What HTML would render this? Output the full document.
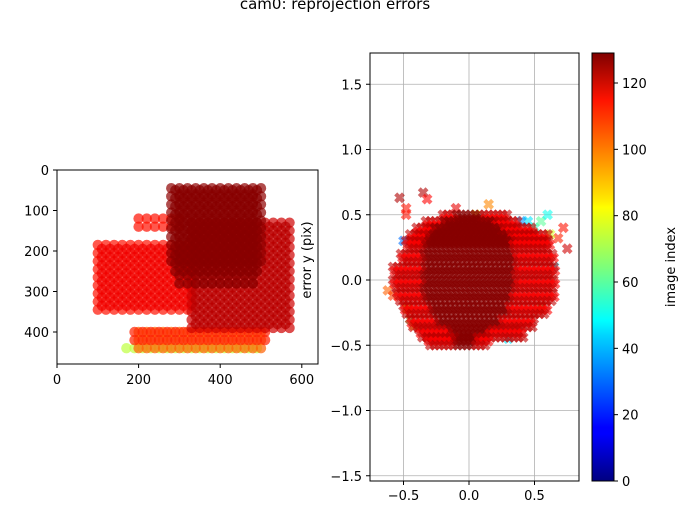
<!DOCTYPE html>
<html><head><meta charset="utf-8"><style>
body{margin:0;background:#fff;}
svg text{font-family:"DejaVu Sans","Liberation Sans",sans-serif;font-size:13px;fill:#000;}
</style></head><body>
<svg id="c" width="683" height="508" viewBox="0 0 683 508">
<defs>
<linearGradient id="jet" x1="0" y1="1" x2="0" y2="0">
<stop offset="0" stop-color="#000080"/><stop offset="0.11" stop-color="#0000ff"/><stop offset="0.125" stop-color="#0000ff"/>
<stop offset="0.34" stop-color="#00d4ff"/><stop offset="0.375" stop-color="#0ff"/><stop offset="0.5" stop-color="#7dff7a"/>
<stop offset="0.64" stop-color="#ff0"/><stop offset="0.66" stop-color="#ffe600"/><stop offset="0.89" stop-color="#ff1300"/><stop offset="1" stop-color="#800000"/>
</linearGradient>
<clipPath id="clipL"><rect x="57" y="170" width="261" height="194"/></clipPath>
<clipPath id="clipR"><rect x="370" y="53" width="209" height="428"/></clipPath>
</defs>
<text x="335" y="9" text-anchor="middle" style="font-size:15px">cam0: reprojection errors</text>
<g id="left"></g>
<g id="right"></g>
<g id="cbar"></g>
</svg>
<script>
// Left plot: blocks of detected corner grids [xmin,xmax,ymin,ymax,imageIndex]
const blocks=[[170,500,440,455,72],[200,500,400,440,100],[190,520,400,425,108],[200,300,120,150,110],[100,320,185,355,110],[110,330,195,345,114],[330,570,130,400,118],[340,560,140,390,121],[280,500,45,225,126],[300,480,60,290,127],[290,490,50,250,127]];
const leftXTicks=[0,200,400,600];
const leftYTicks=[0,100,200,300,400];
// Right plot: rows of error cloud [y, xmin, xmax, coreMin, coreMax]
const cloudRows=[[0.5,-0.2,0.3,-0.1,0.1],[0.45,-0.33,0.38,-0.2,0.2],[0.4,-0.4,0.5,-0.28,0.25],[0.35,-0.45,0.6,-0.3,0.3],[0.3,-0.48,0.62,-0.33,0.33],[0.2,-0.52,0.65,-0.35,0.35],[0.1,-0.58,0.66,-0.35,0.35],[0.0,-0.58,0.66,-0.35,0.35],[-0.1,-0.55,0.66,-0.35,0.33],[-0.2,-0.5,0.6,-0.3,0.3],[-0.3,-0.45,0.5,-0.25,0.25],[-0.38,-0.38,0.42,-0.15,0.15],[-0.44,-0.32,0.15,-0.1,0.05]];
const extraX=[-0.53,-0.48,-0.35,-0.32,-0.62,-0.58,0.75,0.72,0.68,-0.48,0.45,0.5,0.55,0.6,0.62,-0.47,-0.45,-0.42,0.3,0.25,0.05,-0.5,0.35,0.4,-0.1,0.15,0.55,0.65];
const extraY=[0.63,0.55,0.67,0.62,-0.08,-0.12,0.24,0.4,0.32,0.5,0.45,0.4,0.45,0.5,0.35,-0.22,-0.3,-0.35,-0.45,-0.38,0.5,0.3,-0.35,0.45,0.55,0.58,-0.2,0.1];
const extraIdx=[122,110,122,112,100,105,118,110,108,110,45,55,60,50,75,80,65,90,45,40,80,30,55,35,115,95,70,45];
const rightXTicks=[-0.5,0.0,0.5];
const rightYTicks=[-1.5,-1.0,-0.5,0.0,0.5,1.0,1.5];
const cbTicks=[0,20,40,60,80,100,120];

const NS="http://www.w3.org/2000/svg";
function mk(t,a,p){const e=document.createElementNS(NS,t);for(const k in a)e.setAttribute(k,a[k]);p.appendChild(e);return e;}
function jet(i){const t=i/128;const c=v=>Math.round(255*Math.max(0,Math.min(1,v)));return `rgb(${c(1.5-Math.abs(4*t-3))},${c(1.5-Math.abs(4*t-2))},${c(1.5-Math.abs(4*t-1))})`;}
const lx=v=>57+v*0.408, ly=v=>170+v*0.405;
const rx=v=>469+v*131, ry=v=>280-v*130.5;
const cy=v=>481-v*(398/120);

// left plot
const L=document.getElementById('left');
const LP=mk('g',{'clip-path':'url(#clipL)'},L);
blocks.forEach(b=>{for(let y=b[2];y<=b[3];y+=20)for(let x=b[0];x<=b[1];x+=20){
 const e=mk('circle',{cx:lx(x),cy:ly(y),r:5.2,fill:jet(b[4]),'fill-opacity':0.7},LP);
 
 }});
const lf=mk('rect',{x:57,y:170,width:261,height:194,fill:'none',stroke:'#000','stroke-width':1},L);

leftXTicks.forEach(v=>{mk('line',{x1:lx(v),x2:lx(v),y1:364,y2:368,stroke:'#000'},L);
 const t=mk('text',{x:lx(v),y:384,'text-anchor':'middle'},L);t.textContent=v;
 });
leftYTicks.forEach(v=>{mk('line',{x1:53,x2:57,y1:ly(v),y2:ly(v),stroke:'#000'},L);
 const t=mk('text',{x:49,y:ly(v)+5,'text-anchor':'end'},L);t.textContent=v;
 });

// right plot
const R=document.getElementById('right');
rightXTicks.forEach(v=>mk('line',{x1:rx(v),x2:rx(v),y1:53,y2:481,stroke:'#b0b0b0','stroke-width':0.8},R));
rightYTicks.forEach(v=>mk('line',{x1:370,x2:579,y1:ry(v),y2:ry(v),stroke:'#b0b0b0','stroke-width':0.8},R));
const RP=mk('g',{'clip-path':'url(#clipR)'},R);
function xmark(x,y,idx){const s=5.5,w=2.1;const pts=[[-w,-s],[w,-s],[w,-w],[s,-w],[s,w],[w,w],[w,s],[-w,s],[-w,w],[-s,w],[-s,-w],[-w,-w]];
 const p=pts.map(([a,b])=>{const c=Math.SQRT1_2;return (rx(x)+(a-b)*c).toFixed(1)+','+(ry(y)+(a+b)*c).toFixed(1);}).join(' ');
 const e=mk('polygon',{points:p,fill:jet(idx),'fill-opacity':0.6},RP);
 
 }
for(let i=0;i<extraX.length;i++)xmark(extraX[i],extraY[i],extraIdx[i]);
cloudRows.forEach(r=>{for(let k=0;k<3;k++){const dy=-k*0.03,off=k*0.012;
 for(let x=r[1]+off;x<=r[2]+1e-9;x+=0.035)xmark(x,r[0]+dy,(x>=r[3]&&x<=r[4])?127:(k==1?112:120));}});
const rf=mk('rect',{x:370,y:53,width:209,height:428,fill:'none',stroke:'#000','stroke-width':1},R);

rightXTicks.forEach(v=>{mk('line',{x1:rx(v),x2:rx(v),y1:481,y2:485,stroke:'#000'},R);
 const t=mk('text',{x:rx(v),y:500,'text-anchor':'middle'},R);t.textContent=v===0?'0.0':(v<0?'\u2212'+Math.abs(v).toFixed(1):v.toFixed(1));
 });
rightYTicks.forEach(v=>{mk('line',{x1:366,x2:370,y1:ry(v),y2:ry(v),stroke:'#000'},R);
 const t=mk('text',{x:362,y:ry(v)+5,'text-anchor':'end'},R);t.textContent=v===0?'0.0':(v<0?'\u2212'+Math.abs(v).toFixed(1):v.toFixed(1));
 });
const yl=mk('text',{x:0,y:0,'text-anchor':'middle',transform:'translate(311,260) rotate(-90)'},R);yl.textContent='error y (pix)';


// colorbar
const C=document.getElementById('cbar');
mk('rect',{x:592,y:53,width:22,height:428,fill:'url(#jet)',stroke:'#000','stroke-width':1},C);
cbTicks.forEach(v=>{mk('line',{x1:614,x2:618,y1:cy(v),y2:cy(v),stroke:'#000'},C);
 const t=mk('text',{x:622,y:cy(v)+5},C);t.textContent=v;
 });
const cl=mk('text',{x:0,y:0,'text-anchor':'middle',transform:'translate(675,267) rotate(-90)'},C);cl.textContent='image index';

</script>
</body></html>
